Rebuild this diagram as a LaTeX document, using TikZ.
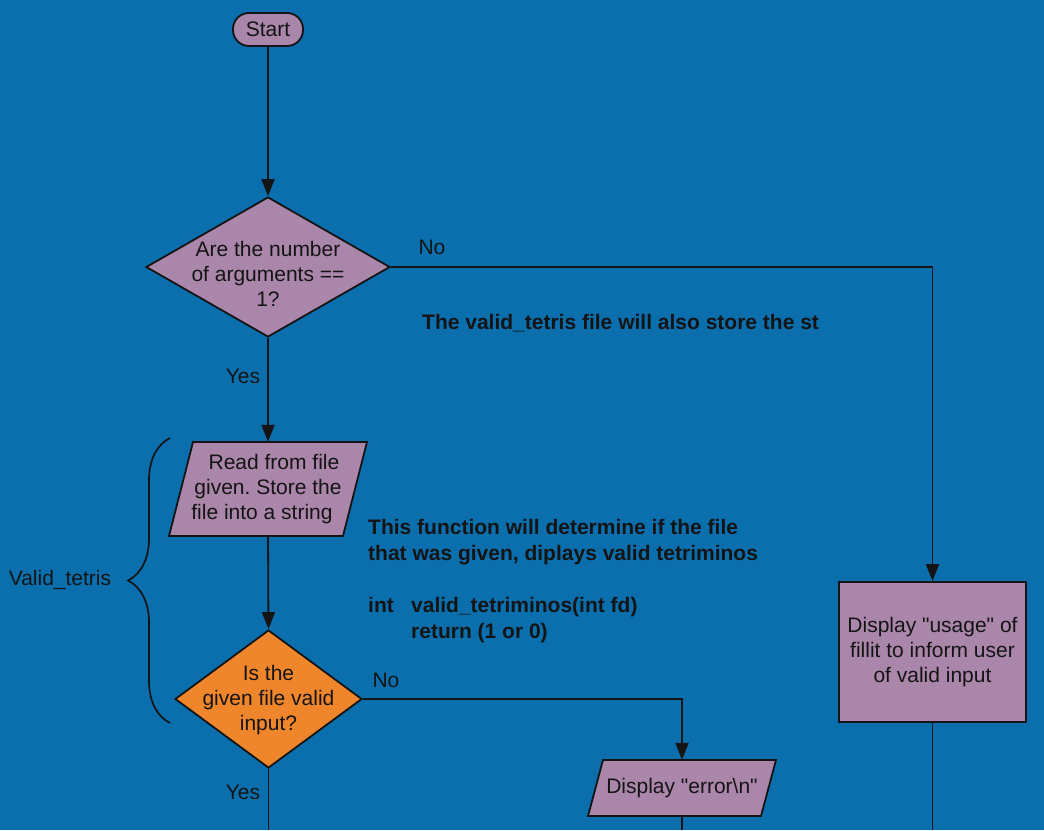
\documentclass[tikz,border=0pt]{standalone}
\usepackage{fontspec}
\setmainfont{Liberation Sans}
\usetikzlibrary{shapes.geometric,arrows.meta,decorations.pathreplacing}
\definecolor{bgblue}{HTML}{0B6FAE}
\definecolor{lilac}{HTML}{AA86AA}
\definecolor{orng}{HTML}{EF862C}
\definecolor{ink}{HTML}{141414}
\frenchspacing
\tikzset{
  x=1pt, y=-1pt,
  every node/.style={font=\fontsize{21}{25}\selectfont, text=ink},
  shapebox/.style={draw=ink, line width=1.8pt, fill=lilac},
  txt/.style={align=center, inner sep=0pt},
  conn/.style={draw=ink, line width=1.8pt},
  arr/.style={conn, -{Triangle[length=17pt,width=13pt]}},
  lbl/.style={inner sep=0pt},
  note/.style={inner sep=0pt, align=left, font=\fontsize{21}{26}\selectfont\bfseries}
}
\begin{document}
\begin{tikzpicture}
\frenchspacing
\useasboundingbox[fill=bgblue] (0,0) rectangle (1044,830);

% Start
\node[shapebox, rounded corners=16pt, minimum width=70pt, minimum height=33pt, inner sep=0pt] (start) at (268,29.5) {Start};

% Decision 1
\node[diamond, shapebox, minimum width=244pt, minimum height=140pt, inner sep=0pt] (d1) at (268,267) {};
\node[txt] (d1t) at (268,274) {Are the number\\of arguments ==\\1?};

% Read parallelogram
\draw[shapebox] (193,442) -- (367,442) -- (343,536) -- (169,536) -- cycle;
\node[txt, minimum width=174pt, minimum height=94pt] (read) at (268,489) {\hspace*{12pt}Read from file\\given.\ Store the\\file into a string\hspace*{12pt}};

% Decision 2
\node[diamond, draw=ink, line width=1.8pt, fill=orng, minimum width=187pt, minimum height=138pt, inner sep=0pt] (d2) at (268.5,699) {};
\node[txt] (d2t) at (268.5,700) {Is the\\given file valid\\input?};

% Usage box
\node[shapebox, rectangle, minimum width=187pt, minimum height=140pt, inner sep=0pt, align=center] (usage) at (932.5,652) {Display \textquotedbl usage\textquotedbl{} of\\fillit to inform user\\of valid input};

% Error parallelogram
\draw[shapebox] (603,760) -- (776,760) -- (761,816) -- (588,816) -- cycle;
\node[txt, minimum width=173pt, minimum height=56pt] (err) at (682,788) {Display \textquotedbl error\textbackslash n\textquotedbl};

% free ends
\coordinate (end1) at (268.5,830);
\coordinate (end2) at (682,830);
\coordinate (end3) at (932.5,830);

% Connectors
\draw[arr] (start.south) -- (d1.north);
\draw[arr] (d1.south) -- (read.north);
\draw[arr] (d1.east) -| (usage.north);
\draw[arr] (read.south) -- (d2.north);
\draw[arr] (d2.east) -| (err.north);
\draw[conn] (d2.south) -- (end1);
\draw[conn] (err.south) -- (end2);
\draw[conn] (usage.south) -- (end3);

% Labels
\node[lbl] (no1) at (432,247) {No};
\node[lbl] (yes1) at (243,376) {Yes};
\node[lbl] (no2) at (386,680) {No};
\node[lbl] (yes2) at (243,792) {Yes};

% Brace
\draw[conn, line width=1.7pt, decorate, decoration={brace, amplitude=42pt}] (170,723) -- (170,438);
\node[lbl] (vt) at (60,580) {Valid\_tetris};

% Notes
\node[note, anchor=west] (note1) at (422,323) {The valid\_tetris file will also store the st};
\node[note, anchor=north west] (note2) at (368,519) {This function will determine if the file\\that was given, diplays valid tetriminos\\[26pt]\makebox[43pt][l]{int}valid\_tetriminos(int fd)\\\hspace*{43pt}return (1 or 0)};
\end{tikzpicture}
\end{document}
